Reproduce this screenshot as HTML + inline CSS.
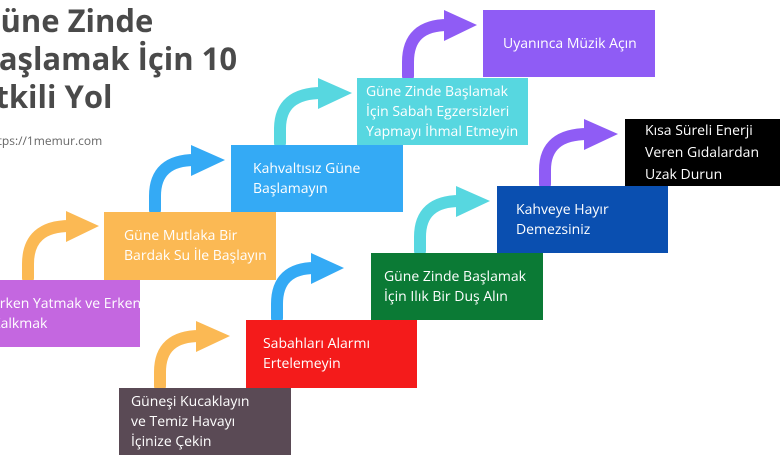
<!DOCTYPE html>
<html><head><meta charset="utf-8"><style>
body{margin:0;width:780px;height:470px;overflow:hidden;background:#fff;position:relative;font-family:"Open Sans","Liberation Sans","DejaVu Sans",sans-serif}
.b{position:absolute;color:#fff;font-size:14px;line-height:20px;box-sizing:border-box;padding-left:20px;display:flex;align-items:center;white-space:nowrap;overflow:hidden}
.t{position:absolute;left:-22px;top:2px;font-weight:bold;font-size:31px;line-height:38px;color:#4a4a4a}
.u{position:absolute;left:-14px;top:132px;font-size:12px;color:#666}
svg{position:absolute;left:0;top:0}
</style></head><body>
<div class="t">Güne Zinde<br>Başlamak İçin 10<br>Etkili Yol</div>
<div class="u">https://1memur.com</div>
<svg width="780" height="470">
<g fill="none" stroke-width="12" stroke-linecap="round">
<path d="M160,386 L160,372 Q160,336 200,336" stroke="#fbb954"/>
<path d="M28,278 L28,264 Q28,226 70,226" stroke="#fbb954"/>
<path d="M155,210 L155,196 Q155,160 195,160" stroke="#34aaf5"/>
<path d="M280,143 L280,129 Q280,93 322,93" stroke="#57d7e0"/>
<path d="M408,76 L408,62 Q408,25 448,25" stroke="#8f5cf5"/>
<path d="M277,318 L277,304 Q277,268 315,268" stroke="#34aaf5"/>
<path d="M420,251 L420,237 Q420,201 460,201" stroke="#57d7e0"/>
<path d="M545,184 L545,170 Q545,134 588,134" stroke="#8f5cf5"/>
</g>
<polygon points="196,321 230,336 196,352" fill="#fbb954"/>
<polygon points="66,211 99,226 66,242" fill="#fbb954"/>
<polygon points="191,145 225,160 191,176" fill="#34aaf5"/>
<polygon points="318,78 352,93 318,109" fill="#57d7e0"/>
<polygon points="444,10 477,25 444,41" fill="#8f5cf5"/>
<polygon points="311,253 344,268 311,284" fill="#34aaf5"/>
<polygon points="456,186 490,201 456,217" fill="#57d7e0"/>
<polygon points="584,119 618,134 584,150" fill="#8f5cf5"/>
</svg>
<div class="b" style="left:483px;top:10px;width:172px;height:67px;background:#8f5cf5">Uyanınca Müzik Açın</div>
<div class="b" style="left:357px;top:78px;width:171px;height:67px;background:#57d7e0;padding-left:9px">Güne Zinde Başlamak<br>İçin Sabah Egzersizleri<br>Yapmayı İhmal Etmeyin</div>
<div class="b" style="left:231px;top:145px;width:172px;height:67px;background:#34aaf5;padding-left:22px">Kahvaltısız Güne<br>Başlamayın</div>
<div class="b" style="left:104px;top:212px;width:172px;height:68px;background:#fbb954">Güne Mutlaka Bir<br>Bardak Su İle Başlayın</div>
<div class="b" style="left:-20px;top:280px;width:160px;height:67px;background:#c467e0;padding-left:12px">Erken Yatmak ve Erken<br>Kalkmak</div>
<div class="b" style="left:625px;top:119px;width:160px;height:67px;background:#000;line-height:22px;padding-left:20px">Kısa Süreli Enerji<br>Veren Gıdalardan<br>Uzak Durun</div>
<div class="b" style="left:497px;top:186px;width:171px;height:67px;background:#0a4fb0;padding-left:19px">Kahveye Hayır<br>Demezsiniz</div>
<div class="b" style="left:371px;top:253px;width:172px;height:67px;background:#0b7a35;padding-left:13px">Güne Zinde Başlamak<br>İçin Ilık Bir Duş Alın</div>
<div class="b" style="left:246px;top:320px;width:171px;height:68px;background:#f41b1b;padding-left:17px">Sabahları Alarmı<br>Ertelemeyin</div>
<div class="b" style="left:119px;top:388px;width:172px;height:67px;background:#5a4a55;padding-left:12px">Güneşi Kucaklayın<br>ve Temiz Havayı<br>İçinize Çekin</div>
</body></html>
